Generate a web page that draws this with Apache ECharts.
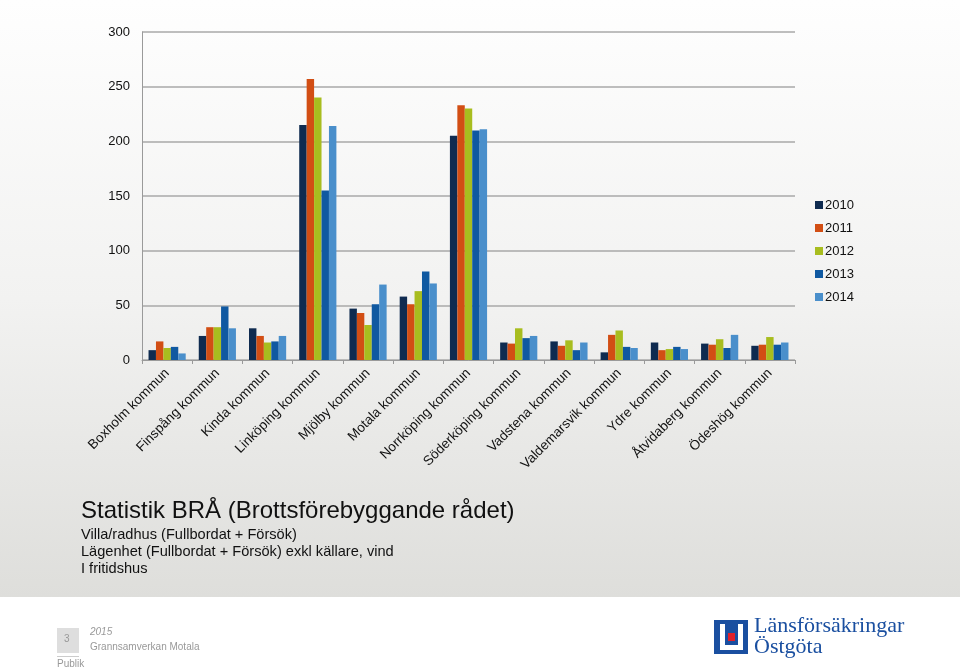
<!DOCTYPE html>
<html>
<head>
<meta charset="utf-8">
<script src="https://cdn.jsdelivr.net/npm/echarts@6/dist/echarts.min.js"></script>
<style>
html,body{margin:0;padding:0;background:#fff;}
#chart{width:960px;height:668px;}
</style>
</head>
<body>
<div id="chart"></div>
<script>
const categories = ["Boxholm kommun","Finspång kommun","Kinda kommun","Linköping kommun","Mjölby kommun","Motala kommun","Norrköping kommun","Söderköping kommun","Vadstena kommun","Valdemarsvik kommun","Ydre kommun","Åtvidaberg kommun","Ödeshög kommun"];
const years = ["2010","2011","2012","2013","2014"];
const v2010 = [9, 22, 29, 215, 47, 58, 205, 16, 17, 7, 16, 15, 13];
const v2011 = [17, 30, 22, 257, 43, 51, 233, 15, 13, 23, 9, 14, 14];
const v2012 = [11, 30, 16, 240, 32, 63, 230, 29, 18, 27, 10, 19, 21];
const v2013 = [12, 49, 17, 155, 51, 81, 210, 20, 9, 12, 12, 11, 14];
const v2014 = [6, 29, 22, 214, 69, 70, 211, 22, 16, 11, 10, 23, 16];
const colors = ["#0f2b50", "#d24e14", "#a8bd1f", "#1059a1", "#4a8fcb"];
const yTicks = [0, 50, 100, 150, 200, 250, 300];

const seriesData = [v2010, v2011, v2012, v2013, v2014];
const chart = echarts.init(document.getElementById('chart'));
const font = "Liberation Sans, Arial, sans-serif";

chart.setOption({
  animation: false,
  textStyle: { fontFamily: font },
  color: colors,
  graphic: [
    { type: 'rect', z: -10, silent: true, shape: { x: 0, y: 0, width: 960, height: 597 },
      style: { fill: new echarts.graphic.LinearGradient(0, 0, 0, 1, [
        { offset: 0, color: '#fefefe' }, { offset: 0.5, color: '#f2f2f1' }, { offset: 1, color: '#dededb' }]) } },
    { type: 'rect', z: -10, silent: true, shape: { x: 0, y: 597, width: 960, height: 71 }, style: { fill: '#ffffff' } },
    { type: 'text', left: 81, top: 499, style: { text: 'Statistik BRÅ (Brottsförebyggande rådet)', font: '24px ' + font, fill: '#111' } },
    { type: 'text', left: 81, top: 527, style: { text: 'Villa/radhus (Fullbordat + Försök)', font: '14.6px ' + font, fill: '#111' } },
    { type: 'text', left: 81, top: 544, style: { text: 'Lägenhet (Fullbordat + Försök) exkl källare, vind', font: '14.6px ' + font, fill: '#111' } },
    { type: 'text', left: 81, top: 561, style: { text: 'I fritidshus', font: '14.6px ' + font, fill: '#111' } },
    // footer
    { type: 'rect', silent: true, shape: { x: 57, y: 628, width: 22, height: 25 }, style: { fill: '#dedede' } },
    { type: 'text', left: 64, top: 634, style: { text: '3', font: '10px ' + font, fill: '#999' } },
    { type: 'rect', silent: true, shape: { x: 57, y: 656, width: 22, height: 1 }, style: { fill: '#cccccc' } },
    { type: 'text', left: 57, top: 659, style: { text: 'Publik', font: '10px ' + font, fill: '#999' } },
    { type: 'text', left: 90, top: 627, style: { text: '2015', font: 'italic 10px ' + font, fill: '#999' } },
    { type: 'text', left: 90, top: 642, style: { text: 'Grannsamverkan Motala', font: '10px ' + font, fill: '#999' } },
    // logo
    { type: 'rect', silent: true, shape: { x: 714, y: 620, width: 34, height: 34 }, style: { fill: '#1a4fa0' } },
    { type: 'polyline', silent: true, shape: { points: [[720,624],[720,650],[743,650],[743,624],[738,624],[738,645],[725,645],[725,624]] }, style: { fill: '#ffffff', stroke: null } },
    { type: 'rect', silent: true, shape: { x: 728, y: 633, width: 7, height: 8 }, style: { fill: '#e0202a' } },
    { type: 'text', left: 754, top: 615, style: { text: 'Länsförsäkringar', font: '22px "Liberation Serif", "DejaVu Serif", serif', fill: '#1a4fa0' } },
    { type: 'text', left: 754, top: 636, style: { text: 'Östgöta', font: '22px "Liberation Serif", "DejaVu Serif", serif', fill: '#1a4fa0' } }
  ],
  legend: {
    orient: 'vertical',
    left: 815, top: 198, padding: 0,
    itemWidth: 8, itemHeight: 8, itemGap: 9,
    icon: 'rect',
    data: years,
    textStyle: { fontSize: 13, color: '#111', lineHeight: 14, fontFamily: font, padding: [0,0,0,-3] }
  },
  grid: { left: 142, right: 165, top: 32, bottom: 308 },
  xAxis: {
    type: 'category',
    data: categories,
    axisLine: { lineStyle: { color: '#9a9a9a', width: 1 } },
    axisTick: { show: true, length: 4, lineStyle: { color: '#9a9a9a' } },
    axisLabel: { rotate: 45, fontSize: 13.5, color: '#111', margin: 11, fontFamily: font, interval: 0 }
  },
  yAxis: {
    type: 'value',
    min: yTicks[0], max: yTicks[yTicks.length - 1], interval: 50,
    axisLine: { show: true, lineStyle: { color: '#9a9a9a' } },
    axisTick: { show: false },
    splitLine: { lineStyle: { color: '#a8a8a8', width: 1.5 } },
    axisLabel: { fontSize: 13, color: '#111', margin: 12, fontFamily: font }
  },
  series: years.map((y, i) => ({
    name: y, type: 'bar', data: seriesData[i],
    barGap: '0%', barCategoryGap: '26%',
    itemStyle: { color: colors[i] }
  }))
});
</script>
</body>
</html>
